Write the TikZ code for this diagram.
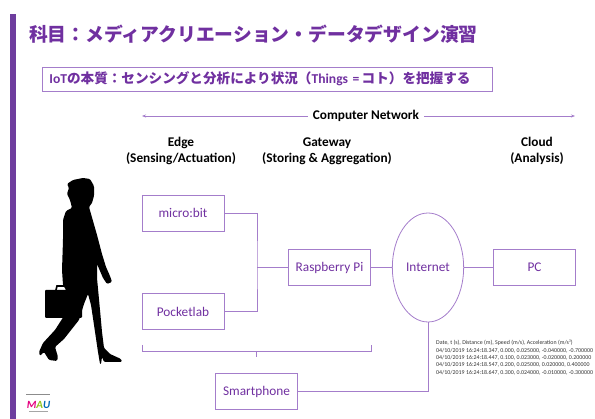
\documentclass[tikz,border=0pt]{standalone}
\usepackage{fontspec}
\setmainfont{Carlito}
\newfontfamily\jpfont{Noto Sans CJK JP}
\usetikzlibrary{arrows.meta,shapes.geometric}

\definecolor{mauviolet}{HTML}{7030A0}
\definecolor{linkviolet}{HTML}{A47DCB}
\definecolor{barviolet}{HTML}{6E3D9E}

\begin{document}
\begin{tikzpicture}[x=1pt, y=-1pt,
    device/.style={draw=linkviolet, line width=0.8pt, rectangle,
                   minimum width=82pt, minimum height=36pt,
                   font=\fontsize{13.3}{15}\selectfont, text=mauviolet},
    cloudnode/.style={device, ellipse, minimum width=58pt, minimum height=109pt},
    tier/.style={align=center, font=\fontsize{13.3}{16}\selectfont\bfseries},
    link/.style={draw=linkviolet, line width=0.8pt},
    tip/.style={link, -{Stealth[length=4pt,width=3pt]}},
  ]
    \useasboundingbox (0,0) rectangle (595,419);

    % ---- Slide frame and headings ----
    \fill[barviolet] (10,14) rectangle (16,419);
    \node[anchor=west, inner sep=0, text=mauviolet,
          font=\jpfont\bfseries\fontsize{18.8}{22}\selectfont] (title) at (29,34.5)
      {科目：メディアクリエーション・データデザイン演習};
    \node[draw=linkviolet, line width=0.8pt, anchor=west, minimum height=24pt,
          text width=436pt, inner xsep=7pt, align=left, text=mauviolet,
          font=\jpfont\bfseries\fontsize{13.6}{16}\selectfont] (essence) at (42,79)
      {{\rmfamily\bfseries IoT}の本質：センシングと分析により状況（{\rmfamily\bfseries Things =\,}コト）を把握する};

    % ---- Network span with tier labels ----
    \node[tier, inner xsep=5pt] (network) at (366,116) {Computer Network};
    \coordinate (netwest) at (142,116);
    \coordinate (neteast) at (575,116);
    \draw[tip] (network) -- (netwest);
    \draw[tip] (network) -- (neteast);

    \node[tier] (edge)    at (181,151) {Edge\\(Sensing/Actuation)};
    \node[tier] (gateway) at (327,151) {Gateway\\(Storing \& Aggregation)};
    \node[tier] (cloud)   at (537,151) {Cloud\\(Analysis)};

    % ---- Devices ----
    \node[device]    (microbit)  at (183,213)     {micro:bit};
    \node[device]    (pocketlab) at (183,311.5)   {Pocketlab};
    \node[device]    (raspi)     at (329.5,267.5) {Raspberry Pi};
    \node[cloudnode] (internet)  at (428,267.5)   {Internet};
    \node[device]    (pc)        at (534.5,267.5) {PC};
    \node[device]    (phone)     at (256.5,391.5) {Smartphone};

    % ---- Wiring ----
    \coordinate (hub) at (257,267.5);
    \draw[link] (microbit.east) -| (hub) |- (pocketlab.east);
    \draw[link] (hub) -- (raspi.west);
    \draw[link] (raspi) -- (internet) -- (pc);
    \draw[link] (phone.east) -| (internet.south);

    % bracket under the edge devices
    \draw[link] (142,345) -- (142,351) -- (371,351) -- (371,345);
    \draw[link] (256,351) -- (256,357);

    % ---- Sample log from the sensor ----
    \begin{scope}
      \clip (0,0) rectangle (595,419);
      \node[anchor=north west, inner sep=0, align=left, text=black!80,
            font=\fontsize{5.9}{7.4}\selectfont] (log) at (436,340)
        {Date, t (s), Distance (m), Speed (m/s), Acceleration (m/s²)\\
         04/10/2019 16:24:18.347, 0.000, 0.025000, -0.040000, -0.700000\\
         04/10/2019 16:24:18.447, 0.100, 0.023000, -0.020000, 0.200000\\
         04/10/2019 16:24:18.547, 0.200, 0.025000, 0.020000, 0.400000\\
         04/10/2019 16:24:18.647, 0.300, 0.024000, -0.010000, -0.300000};
    \end{scope}

    % ---- Walker silhouette ----
    \fill[black, rounded corners=1.2pt]
      (83,178) -- (90,179) -- (94,186) -- (94,196) -- (92,203) -- (89,207)
      -- (91,214) -- (97,235) -- (102,254) -- (106,267) -- (110,276)
      -- (112,282) -- (107,284) -- (103,278) -- (100,271) -- (97,264)
      -- (97,278) -- (100,310) -- (102,332) -- (104,348) -- (110,354)
      -- (121,359) -- (122,362) -- (104,362) -- (102,357) -- (101,364)
      -- (100,364) -- (98,352) -- (94,325) -- (91,305) -- (88,294)
      -- (84,304) -- (79,320) -- (64,339) -- (55,347) -- (58,357)
      -- (57,361) -- (49,360) -- (44,352) -- (40,356) -- (39,352)
      -- (43,343) -- (55,330) -- (64,316) -- (66,290)
      -- (63,285) -- (62,270) -- (63,240) -- (63,220) -- (66,211)
      -- (72,208) -- (70,200) -- (67,194) -- (69,188) -- (67,184)
      -- (73,180) -- cycle;
    \fill[black, rounded corners=1pt] (45,290) rectangle (82,318);
    \draw[black, line width=1.6pt] (56,290) -- (57,286) -- (70,286) -- (71,290);

    % ---- Logo ----
    \fill[black!45] (26,394) rectangle (50,395.2);
    \node[inner sep=0, font=\fontsize{11}{11}\selectfont\bfseries\itshape] (logo) at (38.5,404.5)
      {\textcolor[HTML]{E4007F}{M}\textcolor[HTML]{8FC31F}{A}\textcolor[HTML]{0068B7}{U}};
    \fill[black!35] (29,411.5) rectangle (48,412.5);
\end{tikzpicture}
\end{document}
